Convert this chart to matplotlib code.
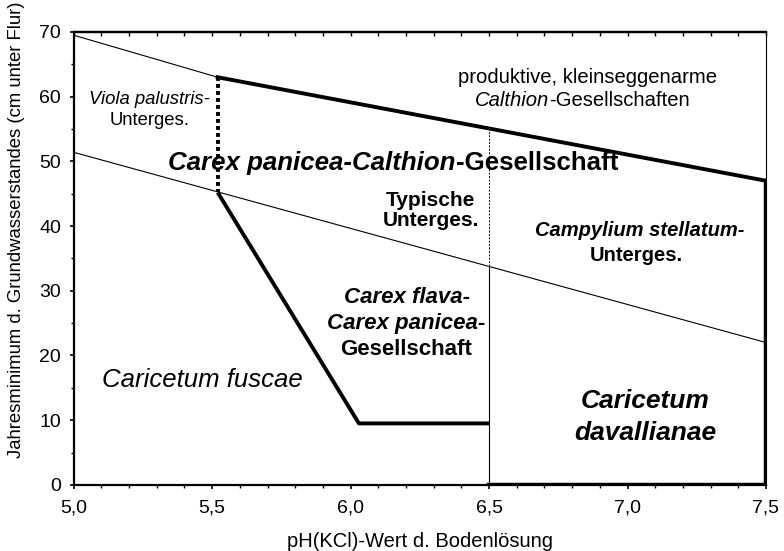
import matplotlib.pyplot as plt
from matplotlib.ticker import MultipleLocator, FuncFormatter, NullFormatter

plt.rcParams['font.family'] = ['Liberation Sans', 'DejaVu Sans']

# Grenzlinien (pH, cm unter Flur)
upper_thin_x = [5.0, 5.52]
upper_thin_y = [69.5, 63.0]
upper_thick_x = [5.52, 7.5]
upper_thick_y = [63.0, 47.0]
lower_thin_x = [5.0, 7.5]
lower_thin_y = [51.4, 22.0]
dotted_x = [5.52, 5.52]
dotted_y = [63.0, 45.2]
flava_x = [5.52, 6.03, 6.5]
flava_y = [45.2, 9.5, 9.5]
davall_x = [6.5, 7.5, 7.5]
davall_y = [0.0, 0.0, 47.0]
vert_solid_x = [6.5, 6.5]
vert_solid_y = [0.0, 33.8]
vert_dash_x = [6.5, 6.5]
vert_dash_y = [33.8, 55.1]

fig = plt.figure(figsize=(7.84, 5.51), dpi=100)
ax = fig.add_axes([0.094, 0.12, 0.883, 0.822])

ax.plot(upper_thin_x, upper_thin_y, color='black', lw=0.8)
ax.plot(lower_thin_x, lower_thin_y, color='black', lw=0.8)
ax.plot(upper_thick_x, upper_thick_y, color='black', lw=2.8)
ax.plot(dotted_x, dotted_y, color='black', lw=2.8, linestyle=(0, (1, 0.8)))
ax.plot(flava_x, flava_y, color='black', lw=2.8, solid_capstyle='butt')
ax.plot(davall_x, davall_y, color='black', lw=3.2, solid_joinstyle='miter')
ax.plot(vert_solid_x, vert_solid_y, color='black', lw=0.8)
ax.plot(vert_dash_x, vert_dash_y, color='black', lw=0.7, linestyle=(0, (2, 1.5)))

ax.set_xlim(5.0, 7.5)
ax.set_ylim(0, 70)
ax.xaxis.set_major_locator(MultipleLocator(0.5))
ax.xaxis.set_minor_locator(MultipleLocator(0.1))
ax.yaxis.set_major_locator(MultipleLocator(10))
ax.yaxis.set_minor_locator(MultipleLocator(5))
ax.xaxis.set_major_formatter(FuncFormatter(lambda v, p: f'{v:.1f}'.replace('.', ',')))
ax.tick_params(axis='both', which='major', labelsize=14, length=3, width=1.2, direction='out')
ax.tick_params(axis='both', which='minor', length=2, width=1, direction='out')
ax.tick_params(axis='x', which='major', pad=7.5)
ax.tick_params(axis='y', which='major', pad=6)
for s in ['left', 'bottom', 'top']:
    ax.spines[s].set_linewidth(1.6)
ax.spines['right'].set_linewidth(0.8)

top = ax.secondary_xaxis('top')
top.xaxis.set_major_locator(MultipleLocator(0.5))
top.xaxis.set_minor_locator(MultipleLocator(0.1))
top.xaxis.set_major_formatter(NullFormatter())
top.tick_params(which='both', direction='in', length=3, width=1)
top.spines['top'].set_linewidth(1.6)

ax.set_xlabel('pH(KCl)-Wert d. Bodenlösung', fontsize=14.5)
ax.set_ylabel('Jahresminimum d. Grundwasserstandes (cm unter Flur)', fontsize=13.3)
ax.xaxis.set_label_coords(0.5, -0.104)
ax.yaxis.set_label_coords(-0.07, 0.563)


def mixed(x, y, parts, size):
    prev = None
    for txt, style, weight in parts:
        if prev is None:
            prev = ax.text(x, y, txt, fontsize=size, style=style, weight=weight,
                           ha='left', va='center')
        else:
            prev = ax.annotate(txt, xy=(1, 0), xycoords=prev, fontsize=size,
                               style=style, weight=weight, ha='left', va='bottom')


ax.text(5.272, 59.5, 'Viola palustris-', fontsize=13.3, style='italic', ha='center', va='center')
ax.text(5.275, 56.3, 'Unterges.', fontsize=13.3, ha='center', va='center')

ax.text(6.857, 62.9, 'produktive, kleinseggenarme', fontsize=14.6, ha='center', va='center')
mixed(6.449, 59.4, [('Calthion', 'italic', 'normal'), ('-Gesellschaften', 'normal', 'normal')], 14.6)

mixed(5.342, 49.8, [('Carex panicea-Calthion', 'italic', 'bold'),
                    ('-Gesellschaft', 'normal', 'bold')], 18.6)

ax.text(6.29, 44.0, 'Typische', fontsize=15, weight='bold', ha='center', va='center')
ax.text(6.29, 40.9, 'Unterges.', fontsize=15, weight='bold', ha='center', va='center')

ax.text(7.045, 39.3, 'Campylium stellatum-', fontsize=14.5, weight='bold', style='italic',
        ha='center', va='center')
ax.text(7.033, 35.4, 'Unterges.', fontsize=14.5, weight='bold', ha='center', va='center')

ax.text(6.202, 28.9, 'Carex flava-', fontsize=16, weight='bold', style='italic', ha='center', va='center')
ax.text(6.202, 24.9, 'Carex panicea-', fontsize=16, weight='bold', style='italic', ha='center', va='center')
ax.text(6.202, 21.0, 'Gesellschaft', fontsize=16, weight='bold', ha='center', va='center')

ax.text(5.463, 16.2, 'Caricetum fuscae', fontsize=18.5, style='italic', ha='center', va='center')

ax.text(7.063, 12.9, 'Caricetum', fontsize=19, weight='bold', style='italic', ha='center', va='center')
ax.text(7.063, 8.0, 'davallianae', fontsize=19, weight='bold', style='italic', ha='center', va='center')

fig.savefig('out.png', dpi=100)
